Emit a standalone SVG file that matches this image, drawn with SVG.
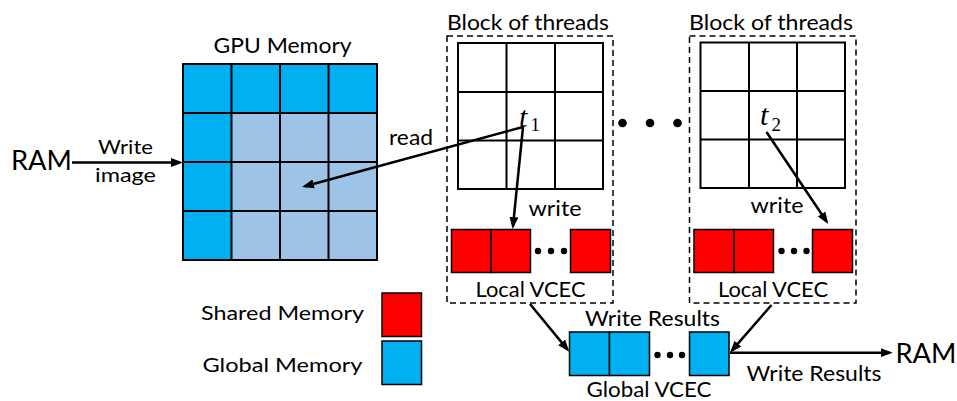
<svg xmlns="http://www.w3.org/2000/svg" width="957" height="401" viewBox="0 0 957 401">
<style>
  text { font-family: Lato, "Liberation Sans", sans-serif; fill: #000; }
  .c { text-anchor: middle; }
  .grid { stroke: #000; stroke-width: 2; fill: none; }
  .dark { fill: #00B0F0; }
  .light { fill: #9DC3E6; }
  .red { fill: #FF0000; stroke: #000; stroke-width: 1.5; }
  .blue { fill: #00B0F0; stroke: #000; stroke-width: 1.5; }
  .dash { fill: none; stroke: #000; stroke-width: 1.5; stroke-dasharray: 6 4; }
  .arr { stroke: #000; stroke-width: 2.5; fill: none; marker-end: url(#ah); }
  .math { font-family: "Liberation Serif", serif; }
</style>
<defs>
  <marker id="ah" markerUnits="userSpaceOnUse" markerWidth="12" markerHeight="10" refX="9" refY="4.5" orient="auto">
    <path d="M0,0 L12,4.5 L0,9 z" fill="#000"/>
  </marker>
</defs>

<rect width="957" height="401" fill="#fff"/>

<g id="gpu-memory">
  <text class="c" x="282.5" y="53" font-size="22" textLength="138" lengthAdjust="spacingAndGlyphs">GPU Memory</text>
  <rect class="light" x="183" y="64" width="194" height="196"/>
  <rect class="dark" x="183" y="64" width="194" height="49"/>
  <rect class="dark" x="183" y="64" width="48.5" height="196"/>
  <g class="grid">
    <rect x="183" y="64" width="194" height="196"/>
    <line x1="231.5" y1="64" x2="231.5" y2="260"/>
    <line x1="280" y1="64" x2="280" y2="260"/>
    <line x1="328.5" y1="64" x2="328.5" y2="260"/>
    <line x1="183" y1="113" x2="377" y2="113"/>
    <line x1="183" y1="162" x2="377" y2="162"/>
    <line x1="183" y1="211" x2="377" y2="211"/>
  </g>
</g>

<g id="ram-in">
  <text class="c" x="41.5" y="170" font-size="27" textLength="61" lengthAdjust="spacingAndGlyphs">RAM</text>
</g>

<g id="block1">
  <text class="c" x="528" y="30" font-size="22" textLength="162" lengthAdjust="spacingAndGlyphs">Block of threads</text>
  <rect class="dash" x="447" y="36" width="166" height="267"/>
  <g class="grid">
    <rect x="458" y="43" width="145" height="146"/>
    <line x1="506.5" y1="43" x2="506.5" y2="189"/>
    <line x1="555" y1="43" x2="555" y2="189"/>
    <line x1="458" y1="92" x2="603" y2="92"/>
    <line x1="458" y1="140.5" x2="603" y2="140.5"/>
  </g>
  <text class="math" x="519" y="126.5" font-size="30" font-style="italic">t</text>
  <text class="math" x="530.5" y="130.5" font-size="19">1</text>
  <text class="c" x="555" y="216" font-size="21" textLength="53" lengthAdjust="spacingAndGlyphs">write</text>
  <rect class="red" x="451.5" y="229.5" width="39.5" height="43"/>
  <rect class="red" x="491" y="229.5" width="39.5" height="43"/>
  <rect class="red" x="570.5" y="229.5" width="40" height="43"/>
  <circle cx="538" cy="251" r="3.2"/>
  <circle cx="551" cy="251" r="3.2"/>
  <circle cx="564" cy="251" r="3.2"/>
  <text class="c" x="530.5" y="296.5" font-size="22" textLength="110" lengthAdjust="spacingAndGlyphs">Local VCEC</text>
</g>

<g id="ellipsis">
  <circle cx="622.5" cy="123" r="4.3"/>
  <circle cx="650" cy="123" r="4.3"/>
  <circle cx="677.5" cy="123" r="4.3"/>
</g>

<g id="block2">
  <text class="c" x="771" y="30" font-size="22" textLength="164" lengthAdjust="spacingAndGlyphs">Block of threads</text>
  <rect class="dash" x="689.5" y="36" width="166.5" height="267"/>
  <g class="grid">
    <rect x="700.5" y="42.5" width="144.5" height="145.5"/>
    <line x1="749" y1="42.5" x2="749" y2="188"/>
    <line x1="797" y1="42.5" x2="797" y2="188"/>
    <line x1="700.5" y1="91" x2="845" y2="91"/>
    <line x1="700.5" y1="139.5" x2="845" y2="139.5"/>
  </g>
  <text class="math" x="760" y="125" font-size="30" font-style="italic">t</text>
  <text class="math" x="771.5" y="130.5" font-size="19">2</text>
  <text class="c" x="777" y="213" font-size="21" textLength="53" lengthAdjust="spacingAndGlyphs">write</text>
  <rect class="red" x="694" y="229.5" width="40" height="43"/>
  <rect class="red" x="734" y="229.5" width="39.5" height="43"/>
  <rect class="red" x="812.5" y="229.5" width="40" height="43"/>
  <circle cx="781.5" cy="251" r="3.2"/>
  <circle cx="794" cy="251" r="3.2"/>
  <circle cx="806.5" cy="251" r="3.2"/>
  <text class="c" x="773" y="296.5" font-size="22" textLength="110" lengthAdjust="spacingAndGlyphs">Local VCEC</text>
</g>

<g id="global-vcec">
  <text class="c" x="652.5" y="326" font-size="20.5" textLength="135" lengthAdjust="spacingAndGlyphs">Write Results</text>
  <rect class="blue" x="569.5" y="332" width="40" height="43.5"/>
  <rect class="blue" x="609.5" y="332" width="40" height="43.5"/>
  <rect class="blue" x="689.5" y="332" width="39.5" height="43.5"/>
  <circle cx="657.5" cy="355" r="3.2"/>
  <circle cx="670" cy="355" r="3.2"/>
  <circle cx="682" cy="355" r="3.2"/>
  <text class="c" x="649" y="397" font-size="22" textLength="125" lengthAdjust="spacingAndGlyphs">Global VCEC</text>
</g>

<g id="ram-out">
  <text class="c" x="926" y="362.5" font-size="27" textLength="61" lengthAdjust="spacingAndGlyphs">RAM</text>
  <text class="c" x="814" y="380.5" font-size="20.5" textLength="135" lengthAdjust="spacingAndGlyphs">Write Results</text>
</g>

<g id="legend">
  <text class="c" x="282.5" y="319.5" font-size="19.5" textLength="163" lengthAdjust="spacingAndGlyphs">Shared Memory</text>
  <rect class="red" x="382" y="293" width="39.5" height="43.5"/>
  <text class="c" x="282.5" y="371.5" font-size="19.5" textLength="160" lengthAdjust="spacingAndGlyphs">Global Memory</text>
  <rect class="blue" x="382" y="341" width="39.5" height="43.5"/>
</g>

<g id="connectors">
  <line class="arr" x1="72" y1="162.5" x2="180" y2="162.5"/>
  <text class="c" x="125.5" y="154" font-size="20" textLength="55" lengthAdjust="spacingAndGlyphs">Write</text>
  <text class="c" x="125.5" y="182" font-size="20" textLength="61" lengthAdjust="spacingAndGlyphs">image</text>
  <line class="arr" x1="523" y1="127" x2="304.9" y2="186.2"/>
  <text class="c" x="411" y="145" font-size="21" textLength="44" lengthAdjust="spacingAndGlyphs">read</text>
  <line class="arr" x1="523" y1="127" x2="513" y2="226"/>
  <line class="arr" x1="766.5" y1="132" x2="826.6" y2="221.5"/>
  <line class="arr" x1="530" y1="304" x2="567.4" y2="349.4"/>
  <line class="arr" x1="771.5" y1="305" x2="732" y2="350.4"/>
  <line class="arr" x1="730" y1="352.7" x2="889.7" y2="352.7"/>
</g>
</svg>
